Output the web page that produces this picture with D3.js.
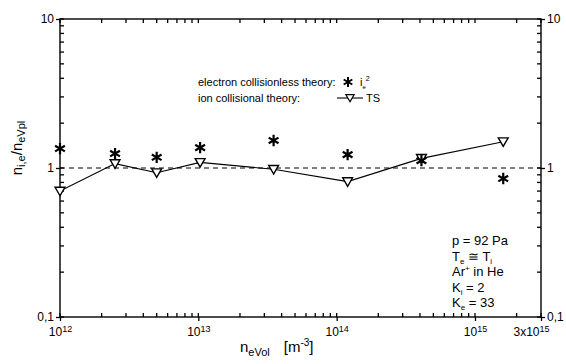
<!DOCTYPE html>
<html>
<head>
<meta charset="utf-8">
<script src="https://cdn.jsdelivr.net/npm/d3@7"></script>
<style>
  body { margin: 0; background: #fff; }
  svg { display: block; font-family: "Liberation Sans", Arial, sans-serif; }
</style>
</head>
<body>
<svg id="chart" width="566" height="364"></svg>
<script>
// density n_eVol [m^-3]
const density = [1e12, 2.5e12, 5e12, 1.03e13, 3.5e13, 1.2e14, 4.1e14, 1.6e15];
// ion collisional theory (TS)
const tsRatio = [0.70, 1.07, 0.93, 1.09, 0.98, 0.81, 1.16, 1.50];
// electron collisionless theory (i_e^2)
const ie2Ratio = [1.35, 1.25, 1.18, 1.37, 1.53, 1.23, 1.12, 0.85];

const xMajor = [1e12, 1e13, 1e14, 1e15, 3e15];
const xLabels = [["10", "12"], ["10", "13"], ["10", "14"], ["10", "15"], ["3x10", "15"]];
const yMajor = [0.1, 1, 10];
const yLabels = ["0,1", "1", "10"];
const notes = [
  [["p = 92 Pa", ""]],
  [["T", ""], ["e", "sub"], [" \u2245 T", ""], ["i", "sub"]],
  [["Ar", ""], ["+", "sup"], [" in He", ""]],
  [["K", ""], ["i", "sub"], [" = 2", ""]],
  [["K", ""], ["e", "sub"], [" = 33", ""]]
];

const svg = d3.select("#chart");
const frame = { left: 60, right: 541, top: 19, bottom: 317 };

const x = d3.scaleLog().domain([1e12, 3e15]).range([frame.left, frame.right]);
const y = d3.scaleLog().domain([0.1, 10]).range([frame.bottom, frame.top]);

// minor tick values
const xMinor = [];
for (let e = 12; e <= 15; e++) for (let m = 2; m <= 9; m++) {
  const v = m * Math.pow(10, e);
  if (v < 3e15) xMinor.push(v);
}
const yMinor = [];
for (let e = -1; e <= 0; e++) for (let m = 2; m <= 9; m++) yMinor.push(m * Math.pow(10, e));
const xIn = xMinor.concat(xMajor);
const yIn = yMinor.concat(yMajor);

// frame
svg.append("rect")
  .attr("x", frame.left).attr("y", frame.top)
  .attr("width", frame.right - frame.left).attr("height", frame.bottom - frame.top)
  .attr("fill", "none").attr("stroke", "#000").attr("stroke-width", 1.4);

// inward ticks on all four sides
const tk = svg.append("g").attr("stroke", "#000").attr("stroke-width", 1.3);
[frame.bottom, frame.top].forEach(edge => {
  const dir = edge === frame.bottom ? -1 : 1;
  tk.selectAll(null).data(xIn).join("line")
    .attr("x1", d => x(d)).attr("x2", d => x(d))
    .attr("y1", edge).attr("y2", edge + dir * 4);
});
[frame.left, frame.right].forEach(edge => {
  const dir = edge === frame.left ? 1 : -1;
  tk.selectAll(null).data(yIn).join("line")
    .attr("y1", d => y(d)).attr("y2", d => y(d))
    .attr("x1", edge).attr("x2", edge + dir * 4);
});

function styleAxis(g) {
  g.select("path.domain").remove();
  g.selectAll(".tick line").attr("stroke", "#000").attr("stroke-width", 1.3);
}

// major ticks outward with labels
const xAx = svg.append("g").attr("transform", `translate(0,${frame.bottom})`)
  .call(d3.axisBottom(x).tickValues(xMajor).tickSize(4).tickPadding(3).tickFormat(() => ""))
  .call(styleAxis);
xAx.selectAll(".tick text").each(function(d, i) {
  const t = d3.select(this).attr("fill", "#000").attr("font-size", 12).attr("dy", "1em");
  t.append("tspan").text(xLabels[i][0]);
  t.append("tspan").attr("font-size", 9).attr("dy", "-0.5em").text(xLabels[i][1]);
});
xAx.selectAll(".tick").filter(d => d === 3e15).select("text").attr("text-anchor", "end").attr("dx", 8);

const yL = svg.append("g").attr("transform", `translate(${frame.left},0)`)
  .call(d3.axisLeft(y).tickValues(yMajor).tickSize(4).tickPadding(2).tickFormat((d, i) => yLabels[i]))
  .call(styleAxis);
yL.selectAll(".tick text").attr("fill", "#000").attr("font-size", 12);

const yR = svg.append("g").attr("transform", `translate(${frame.right},0)`)
  .call(d3.axisRight(y).tickValues(yMajor).tickSize(4).tickPadding(2).tickFormat((d, i) => yLabels[i]))
  .call(styleAxis);
yR.selectAll(".tick text").attr("fill", "#000").attr("font-size", 12);

// reference line at 1
svg.append("line")
  .attr("x1", frame.left).attr("x2", frame.right).attr("y1", y(1)).attr("y2", y(1))
  .attr("stroke", "#000").attr("stroke-width", 1).attr("stroke-dasharray", "5,4");

// TS line + triangles
const pts = density.map((d, i) => ({ n: d, ts: tsRatio[i], ie: ie2Ratio[i] }));
svg.append("path").datum(pts)
  .attr("fill", "none").attr("stroke", "#000").attr("stroke-width", 1.1)
  .attr("d", d3.line().x(d => x(d.n)).y(d => y(d.ts)));

const tri = d3.symbol().type(d3.symbolTriangle).size(42);
svg.append("g").selectAll("path").data(pts).join("path")
  .attr("d", tri)
  .attr("transform", d => `translate(${x(d.n)},${y(d.ts) - 1}) rotate(180)`)
  .attr("fill", "#fff").attr("stroke", "#000").attr("stroke-width", 1.4);

// asterisks
const ast = d3.symbol().type(d3.symbolAsterisk).size(90);
svg.append("g").selectAll("path").data(pts).join("path")
  .attr("d", ast)
  .attr("transform", d => `translate(${x(d.n)},${y(d.ie)})`)
  .attr("fill", "none").attr("stroke", "#000").attr("stroke-width", 2.2);

// legend
const lg = svg.append("g").attr("font-size", 11).attr("fill", "#000");
lg.append("text").attr("x", 198).attr("y", 86).text("electron collisionless theory:");
lg.append("text").attr("x", 198).attr("y", 102).text("ion collisional theory:");
lg.append("path").attr("d", ast.size(70)()).attr("transform", "translate(348,82)")
  .attr("fill", "none").attr("stroke", "#000").attr("stroke-width", 2);
const ieT = lg.append("text").attr("x", 360).attr("y", 86);
ieT.append("tspan").text("i");
ieT.append("tspan").attr("font-size", 6).attr("dy", 3).text("e");
ieT.append("tspan").attr("font-size", 7).attr("dy", -8).text("2");
lg.append("line").attr("x1", 337).attr("x2", 363).attr("y1", 98).attr("y2", 98)
  .attr("stroke", "#000").attr("stroke-width", 1.1);
lg.append("path").attr("d", tri.size(30)()).attr("transform", "translate(350,97) rotate(180)")
  .attr("fill", "#fff").attr("stroke", "#000").attr("stroke-width", 1.2);
lg.append("text").attr("x", 366).attr("y", 102).text("TS");

// parameter notes
const nt = svg.append("g").attr("font-size", 13).attr("fill", "#000");
notes.forEach((parts, i) => {
  const t = nt.append("text").attr("x", 452).attr("y", 245 + i * 15.5);
  parts.forEach(([s, kind], j) => {
    const ts = t.append("tspan").text(s);
    if (kind === "sub") ts.attr("font-size", 8).attr("dy", 3);
    else if (kind === "sup") ts.attr("font-size", 8).attr("dy", -5);
    else if (j > 0 && parts[j - 1][1] === "sub") ts.attr("dy", -3);
    else if (j > 0 && parts[j - 1][1] === "sup") ts.attr("dy", 5);
  });
});

// axis titles
const xt = svg.append("text").attr("x", 240).attr("y", 352).attr("font-size", 15).attr("fill", "#000");
xt.append("tspan").text("n");
xt.append("tspan").attr("font-size", 11).attr("dy", 4).text("eVol");
xt.append("tspan").attr("dx", 14).attr("dy", -4).text("[m");
xt.append("tspan").attr("font-size", 10).attr("dy", -6).text("-3");
xt.append("tspan").attr("dy", 6).text("]");

const yt = svg.append("text").attr("transform", "translate(22,148) rotate(-90)")
  .attr("text-anchor", "middle").attr("font-size", 15).attr("fill", "#000");
yt.append("tspan").text("n");
yt.append("tspan").attr("font-size", 11).attr("dy", 3).text("i,e");
yt.append("tspan").attr("dy", -3).text("/n");
yt.append("tspan").attr("font-size", 11).attr("dy", 3).text("eVpl");
</script>
</body>
</html>
